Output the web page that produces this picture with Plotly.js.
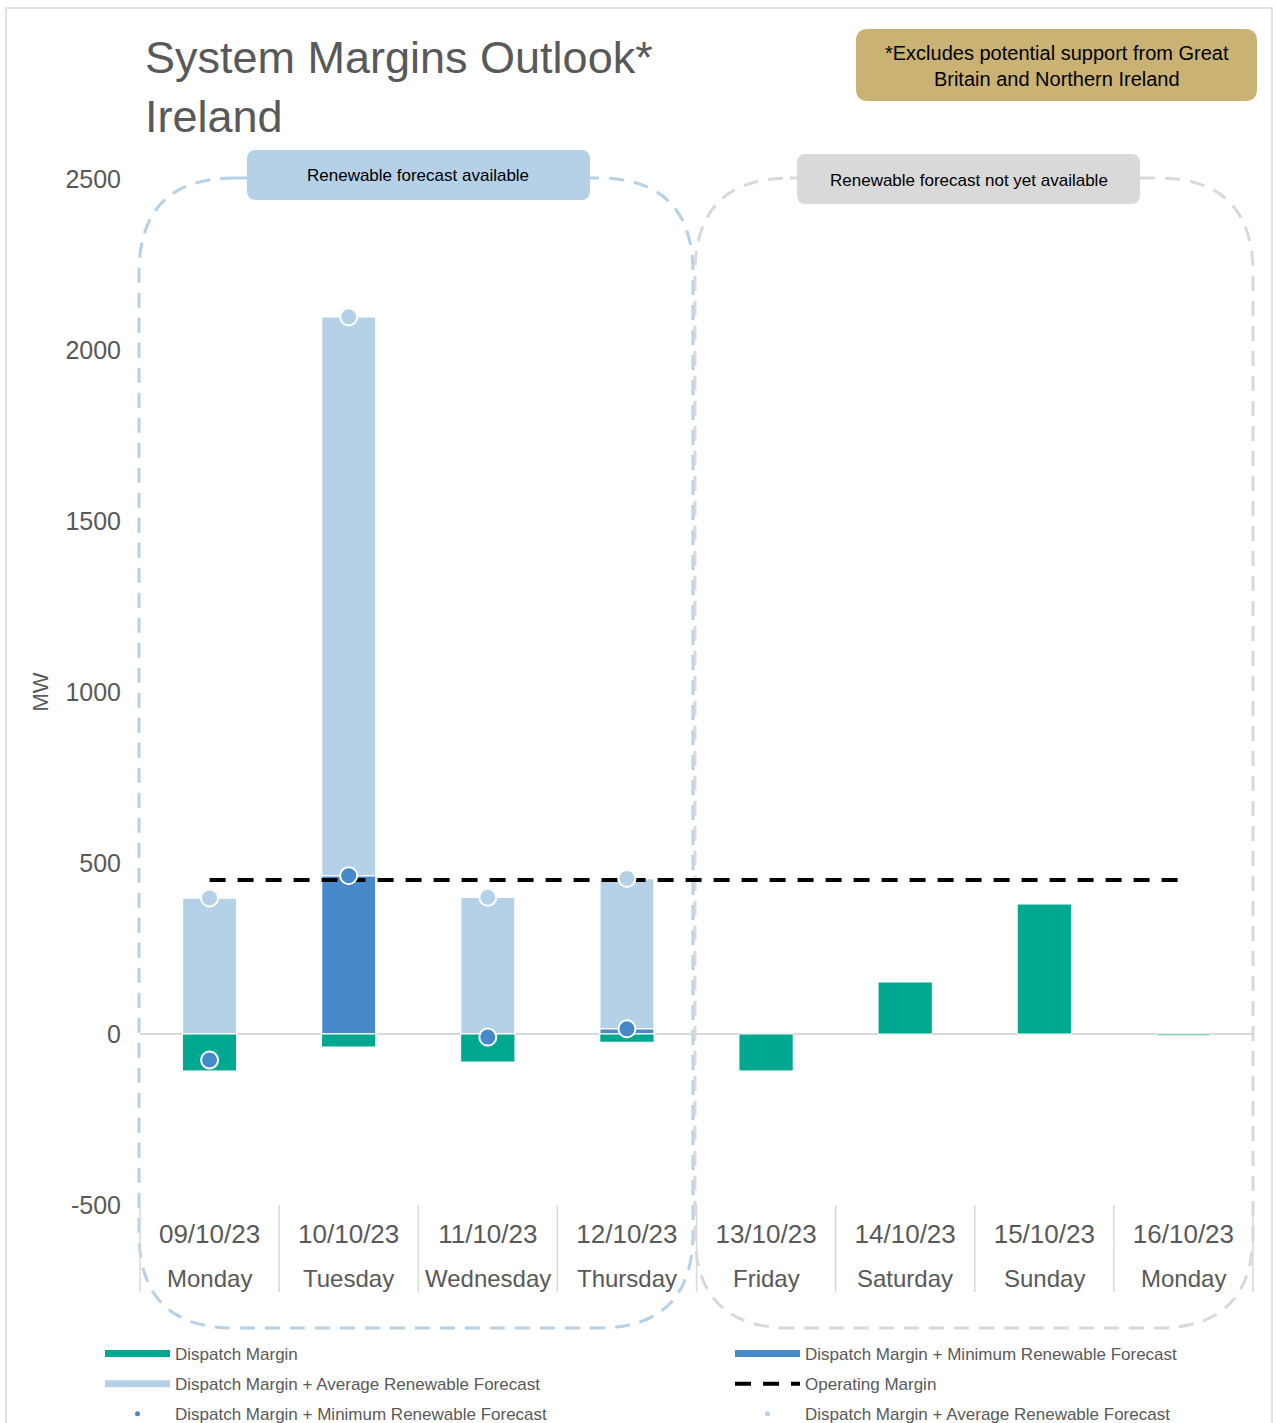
<!DOCTYPE html>
<html>
<head>
<meta charset="utf-8">
<script src="https://cdn.plot.ly/plotly-3.0.1.min.js"></script>
<style>html,body{margin:0;padding:0;background:#fff;}#chart{width:1276px;height:1423px;}</style>
</head>
<body>
<div id="chart"></div>
<script>
// ---------- data ----------
const dates = ["09/10/23","10/10/23","11/10/23","12/10/23","13/10/23","14/10/23","15/10/23","16/10/23"];
const days = ["Monday","Tuesday","Wednesday","Thursday","Friday","Saturday","Sunday","Monday"];
const dispatchMargin = [-108, -38, -82, -24, -108, 152, 380, -5];
const minRenewable = [-76, 463, -9, 15, null, null, null, null];
const avgRenewable = [398, 2097, 400, 455, null, null, null, null];
const operatingMargin = [450, 450, 450, 450, 450, 450, 450, 450];
const yTicks = [-500, 0, 500, 1000, 1500, 2000, 2500];
const yTickText = ["-500", "0", "500", "1000", "1500", "2000", "2500"];

// ---------- styling ----------
const TEAL = "#00a88f", BLUE = "#4589c8", LIGHT = "#b4d1e8", GREY = "#d9d9d9", GOLD = "#c9b273", TXT = "#595959";
const FONT = "Liberation Sans, Arial, sans-serif";
const W = 1276, H = 1423, ML = 140, MR = 23, MT = 179, MB = 218;
const PW = W - ML - MR, PH = H - MT - MB;
const px = x => (x - ML) / PW;
const py = y => (H - MB - y) / PH;

function roundRect(x0, y0, x1, y1, r) {
  const P = (x, y) => px(x).toFixed(5) + "," + py(y).toFixed(5);
  return "M" + P(x0 + r, y0) + " L" + P(x1 - r, y0) + " Q" + P(x1, y0) + " " + P(x1, y0 + r) +
    " L" + P(x1, y1 - r) + " Q" + P(x1, y1) + " " + P(x1 - r, y1) +
    " L" + P(x0 + r, y1) + " Q" + P(x0, y1) + " " + P(x0, y1 - r) +
    " L" + P(x0, y0 + r) + " Q" + P(x0, y0) + " " + P(x0 + r, y0) + " Z";
}

const barW = 0.39;
const traces = [
  {type: "bar", x: dates, y: avgRenewable, width: barW, marker: {color: LIGHT, line: {color: "#ffffff", width: 1.5}}, showlegend: false, name: "Dispatch Margin + Average Renewable Forecast"},
  {type: "bar", x: dates, y: minRenewable, width: barW, marker: {color: BLUE, line: {color: "#ffffff", width: 1.5}}, showlegend: false, name: "Dispatch Margin + Minimum Renewable Forecast"},
  {type: "bar", x: dates, y: dispatchMargin, width: barW, marker: {color: TEAL, line: {color: "#ffffff", width: 1}}, showlegend: false, name: "Dispatch Margin"},
  {type: "scatter", mode: "lines", x: dates, y: operatingMargin, line: {color: "#000000", width: 4, dash: "16px,12px"}, name: "Operating Margin", legend: "legend2", legendgroup: "g4", legendrank: 2},
  {type: "scatter", mode: "markers", x: dates, y: avgRenewable, marker: {color: LIGHT, size: 17, line: {color: "#ffffff", width: 2}}, showlegend: false, name: "Dispatch Margin + Average Renewable Forecast"},
  {type: "scatter", mode: "markers", x: dates, y: minRenewable, marker: {color: BLUE, size: 17, line: {color: "#ffffff", width: 2}}, showlegend: false, name: "Dispatch Margin + Minimum Renewable Forecast"},
  // legend-only entries
  {type: "scatter", mode: "lines", x: [null], y: [null], line: {color: TEAL, width: 7}, name: "Dispatch Margin", legend: "legend", legendgroup: "g1", legendrank: 1, hoverinfo: "skip"},
  {type: "scatter", mode: "lines", x: [null], y: [null], line: {color: LIGHT, width: 7}, name: "Dispatch Margin + Average Renewable Forecast", legend: "legend", legendgroup: "g2", legendrank: 2, hoverinfo: "skip"},
  {type: "scatter", mode: "markers", x: [null], y: [null], marker: {color: BLUE, size: 5}, name: "Dispatch Margin + Minimum Renewable Forecast", legend: "legend", legendgroup: "g3", legendrank: 3, hoverinfo: "skip"},
  {type: "scatter", mode: "lines", x: [null], y: [null], line: {color: BLUE, width: 7}, name: "Dispatch Margin + Minimum Renewable Forecast", legend: "legend2", legendgroup: "g5", legendrank: 1, hoverinfo: "skip"},
  {type: "scatter", mode: "markers", x: [null], y: [null], marker: {color: LIGHT, size: 5}, name: "Dispatch Margin + Average Renewable Forecast", legend: "legend2", legendgroup: "g6", legendrank: 3, hoverinfo: "skip"}
];

const shapes = [];
// outer frame
shapes.push({type: "rect", xref: "paper", yref: "paper", x0: px(6), x1: px(1272), y0: py(8), y1: py(1440), line: {color: GREY, width: 1.5}, layer: "below"});
// dashed region boxes
shapes.push({type: "path", xref: "paper", yref: "paper", path: roundRect(139, 178, 693, 1328, 95), line: {color: LIGHT, width: 3, dash: "15px,10px"}, layer: "below"});
shapes.push({type: "path", xref: "paper", yref: "paper", path: roundRect(695, 178, 1253, 1328, 95), line: {color: GREY, width: 3, dash: "15px,10px"}, layer: "below"});
// label boxes
shapes.push({type: "path", xref: "paper", yref: "paper", path: roundRect(247, 150, 590, 200, 9), fillcolor: LIGHT, line: {width: 0}, layer: "below"});
shapes.push({type: "path", xref: "paper", yref: "paper", path: roundRect(797, 154, 1140, 204, 9), fillcolor: GREY, line: {width: 0}, layer: "below"});
shapes.push({type: "path", xref: "paper", yref: "paper", path: roundRect(856, 29, 1257, 101, 12), fillcolor: GOLD, line: {width: 0}, layer: "below"});
// category separators
for (let k = 0; k <= dates.length; k++) {
  shapes.push({type: "line", xref: "paper", yref: "paper", x0: k / dates.length, x1: k / dates.length, y0: py(1205), y1: py(1292), line: {color: GREY, width: 1.5}, layer: "below"});
}

const annotations = [
  {xref: "paper", yref: "paper", x: px(418), y: py(176), text: "Renewable forecast available", showarrow: false, font: {family: FONT, size: 17, color: "#000000"}, xanchor: "center", yanchor: "middle"},
  {xref: "paper", yref: "paper", x: px(969), y: py(180), text: "Renewable forecast not yet available", showarrow: false, font: {family: FONT, size: 17, color: "#000000"}, xanchor: "center", yanchor: "middle"},
  {xref: "paper", yref: "paper", x: px(1057), y: py(66), text: "*Excludes potential support from Great<br>Britain and Northern Ireland", showarrow: false, font: {family: FONT, size: 20, color: "#000000"}, xanchor: "center", yanchor: "middle", align: "center"}
];
days.forEach((d, i) => {
  annotations.push({xref: "x", yref: "paper", x: dates[i], y: py(1278), text: d, showarrow: false, font: {family: FONT, size: 24, color: TXT}, xanchor: "center", yanchor: "middle"});
});

const legendCommon = {orientation: "v", xanchor: "left", yanchor: "top", y: py(1336), font: {family: FONT, size: 17, color: TXT}, itemwidth: 65, tracegroupgap: 5, bgcolor: "rgba(0,0,0,0)", traceorder: "grouped"};

const layout = {
  width: W, height: H,
  margin: {l: ML, r: MR, t: MT, b: MB, autoexpand: false},
  paper_bgcolor: "#ffffff", plot_bgcolor: "rgba(0,0,0,0)",
  barmode: "overlay",
  font: {family: FONT, color: TXT},
  title: {text: "System Margins Outlook*<br>Ireland", font: {family: FONT, size: 45, color: TXT}, x: 145 / W, xanchor: "left", xref: "container", yref: "container", y: 1 - 73 / H, yanchor: "top"},
  xaxis: {type: "category", categoryorder: "array", categoryarray: dates, showgrid: false, showline: false, zeroline: false, ticks: "", tickfont: {family: FONT, size: 26, color: TXT}, ticklabelstandoff: 11, fixedrange: true, automargin: false},
  yaxis: {range: [-500, 2500], tickmode: "array", tickvals: yTicks, ticktext: yTickText, showgrid: false, showline: false, zeroline: true, zerolinecolor: GREY, zerolinewidth: 2, ticks: "", tickfont: {family: FONT, size: 25, color: TXT}, ticklabelstandoff: 18, title: {text: "MW", font: {family: FONT, size: 22, color: TXT}, standoff: 10}, fixedrange: true, automargin: false},
  legend: Object.assign({}, legendCommon, {x: px(100)}),
  legend2: Object.assign({}, legendCommon, {x: px(730)}),
  shapes: shapes,
  annotations: annotations,
  showlegend: true,
  hovermode: "closest"
};

Plotly.newPlot("chart", traces, layout, {displayModeBar: false, responsive: false});
</script>
</body>
</html>
